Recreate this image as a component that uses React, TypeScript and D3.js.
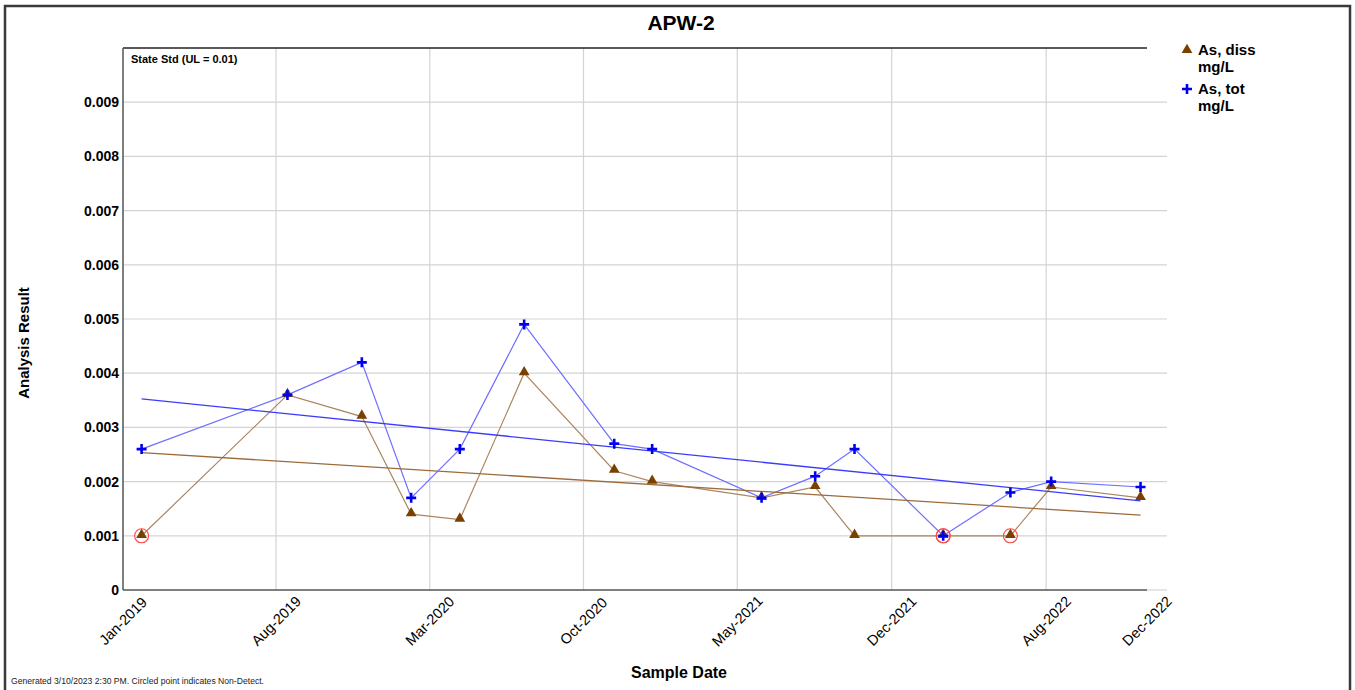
import React, { useEffect, useRef } from 'react';
import * as d3 from 'd3';

// sample dates and results
const sampleDates = [
  '2019-01-27', '2019-08-19', '2019-12-01', '2020-02-08', '2020-04-16',
  '2020-07-15', '2020-11-18', '2021-01-10', '2021-06-12', '2021-08-26',
  '2021-10-20', '2022-02-21', '2022-05-26', '2022-07-22', '2022-11-24',
];
const asDiss = [0.001, 0.0036, 0.0032, 0.0014, 0.0013, 0.004, 0.0022, 0.002, 0.0017, 0.0019, 0.001, 0.001, 0.001, 0.0019, 0.0017];
const asDissND = [true, false, false, false, false, false, false, false, false, false, false, true, true, false, false];
const asTot = [0.0026, 0.0036, 0.0042, 0.0017, 0.0026, 0.0049, 0.0027, 0.0026, 0.0017, 0.0021, 0.0026, 0.001, 0.0018, 0.002, 0.0019];
const asTotND = [false, false, false, false, false, false, false, false, false, false, false, true, false, false, false];

const tickDates = ['2019-01-01', '2019-08-03', '2020-03-05', '2020-10-06', '2021-05-09', '2021-12-11', '2022-07-15', '2022-12-03'];
const tickLabels = ['Jan-2019', 'Aug-2019', 'Mar-2020', 'Oct-2020', 'May-2021', 'Dec-2021', 'Aug-2022', 'Dec-2022'];
const yTicks = [0, 0.001, 0.002, 0.003, 0.004, 0.005, 0.006, 0.007, 0.008, 0.009];

const FONT = '"Liberation Sans", Arial, sans-serif';

const App: React.FC = () => {
  const svgRef = useRef<SVGSVGElement>(null);

  useEffect(() => {
    if (!svgRef.current) return;
    const svg = d3.select(svgRef.current);
    svg.selectAll('*').remove();

    const W = 1355, H = 690;
    const left = 123, right = 1167, top = 48, bottom = 590, axisEnd = 1147;

    svg.attr('width', W).attr('height', H).style('font-family', FONT);
    svg.append('rect').attr('width', W).attr('height', H).attr('fill', '#fff');

    // outer frame
    svg.append('rect')
      .attr('x', 5).attr('y', 6).attr('width', 1345).attr('height', 690)
      .attr('fill', 'none').attr('stroke', '#3a3a3a').attr('stroke-width', 2.5);

    const parse = d3.timeParse('%Y-%m-%d');
    const dates = sampleDates.map(d => parse(d) as Date);

    const x = d3.scaleTime()
      .domain([parse('2019-01-01') as Date, parse('2022-12-31') as Date])
      .range([left, right]);
    const y = d3.scaleLinear().domain([0, 0.01]).range([bottom, top]);

    // grid
    svg.append('g').selectAll('line').data(yTicks.slice(1)).enter().append('line')
      .attr('x1', left).attr('x2', right)
      .attr('y1', d => y(d)).attr('y2', d => y(d))
      .attr('stroke', '#d4d4d4').attr('stroke-width', 1.2);
    svg.append('g').selectAll('line').data(tickDates.slice(1, -1)).enter().append('line')
      .attr('x1', d => x(parse(d) as Date)).attr('x2', d => x(parse(d) as Date))
      .attr('y1', top).attr('y2', bottom)
      .attr('stroke', '#d4d4d4').attr('stroke-width', 1.2);
    svg.append('line').attr('x1', axisEnd).attr('x2', right).attr('y1', bottom).attr('y2', bottom)
      .attr('stroke', '#d4d4d4').attr('stroke-width', 1.2);

    // axes frame
    svg.append('line').attr('x1', left).attr('x2', axisEnd).attr('y1', top).attr('y2', top)
      .attr('stroke', '#222').attr('stroke-width', 1.5);
    svg.append('line').attr('x1', left).attr('x2', axisEnd).attr('y1', bottom).attr('y2', bottom)
      .attr('stroke', '#555').attr('stroke-width', 1.5);
    svg.append('line').attr('x1', left).attr('x2', left).attr('y1', top).attr('y2', bottom)
      .attr('stroke', '#555').attr('stroke-width', 1.5);

    // y tick labels
    svg.append('g').selectAll('text').data(yTicks).enter().append('text')
      .attr('x', left - 4).attr('y', d => y(d)).attr('dy', '0.35em')
      .attr('text-anchor', 'end').attr('font-size', 14).attr('font-weight', 700)
      .attr('fill', '#000')
      .text(d => (d === 0 ? '0' : d3.format('.3f')(d)));

    // x tick labels
    svg.append('g').selectAll('text').data(tickDates).enter().append('text')
      .attr('transform', (d) => `translate(${x(parse(d) as Date)},${bottom + 31}) rotate(-45)`)
      .attr('text-anchor', 'middle').attr('dy', '0.35em')
      .attr('font-size', 14.5).attr('fill', '#000')
      .text((d, i) => tickLabels[i]);

    // titles
    svg.append('text').attr('x', 681).attr('y', 30).attr('text-anchor', 'middle')
      .attr('font-size', 21).attr('font-weight', 700).text('APW-2');
    svg.append('text').attr('x', 679).attr('y', 678).attr('text-anchor', 'middle')
      .attr('font-size', 16).attr('font-weight', 700).text('Sample Date');
    svg.append('text').attr('transform', 'translate(29,343) rotate(-90)').attr('text-anchor', 'middle')
      .attr('font-size', 15).attr('font-weight', 700).text('Analysis Result');
    svg.append('text').attr('x', 131).attr('y', 63)
      .attr('font-size', 11).attr('font-weight', 700).text('State Std (UL = 0.01)');
    svg.append('text').attr('x', 11).attr('y', 684)
      .attr('font-size', 8.5).attr('fill', '#222')
      .attr('textLength', 253).attr('lengthAdjust', 'spacingAndGlyphs')
      .text('Generated 3/10/2023 2:30 PM. Circled point indicates Non-Detect.');

    // series lines
    const line = d3.line<number>().x((d, i) => x(dates[i])).y(d => y(d));
    svg.append('path').attr('d', line(asDiss)).attr('fill', 'none')
      .attr('stroke', '#ab8660').attr('stroke-width', 1.2);
    svg.append('path').attr('d', line(asTot)).attr('fill', 'none')
      .attr('stroke', '#6f6fff').attr('stroke-width', 1.2);

    // least-squares trend lines, first to last sample
    const trend = (vals: number[]) => {
      const xs = dates.map(d => d.getTime());
      const mx = d3.mean(xs) as number, my = d3.mean(vals) as number;
      let sxy = 0, sxx = 0;
      xs.forEach((xv, i) => { sxy += (xv - mx) * (vals[i] - my); sxx += (xv - mx) ** 2; });
      const b = sxy / sxx;
      const ends = [xs[0], xs[xs.length - 1]];
      return ends.map(t => [x(new Date(t)), y(my + b * (t - mx))] as [number, number]);
    };
    svg.append('path').attr('d', d3.line()(trend(asDiss))).attr('fill', 'none')
      .attr('stroke', '#9c6b3c').attr('stroke-width', 1.3);
    svg.append('path').attr('d', d3.line()(trend(asTot))).attr('fill', 'none')
      .attr('stroke', '#3b3bff').attr('stroke-width', 1.3);

    // markers
    const tri = d3.symbol().type(d3.symbolTriangle).size(50)();
    const plus = 'M-5,0H5M0,-5V5';
    svg.append('g').selectAll('path').data(asDiss).enter().append('path')
      .attr('d', tri)
      .attr('transform', (d, i) => `translate(${x(dates[i])},${y(d) - 1})`)
      .attr('fill', '#7a4000');
    svg.append('g').selectAll('path').data(asTot).enter().append('path')
      .attr('d', plus)
      .attr('transform', (d, i) => `translate(${x(dates[i])},${y(d)})`)
      .attr('stroke', '#0000ee').attr('stroke-width', 2.6).attr('fill', 'none');

    // non-detect circles
    const nd = [
      ...asDiss.map((v, i) => ({ v, i, nd: asDissND[i] })),
      ...asTot.map((v, i) => ({ v, i, nd: asTotND[i] })),
    ].filter(p => p.nd);
    svg.append('g').selectAll('circle').data(nd).enter().append('circle')
      .attr('cx', p => x(dates[p.i])).attr('cy', p => y(p.v)).attr('r', 7)
      .attr('fill', 'none').attr('stroke', '#ff4a4a').attr('stroke-width', 1.1);

    // legend
    const lg = svg.append('g');
    lg.append('path').attr('d', tri).attr('transform', 'translate(1187,50)').attr('fill', '#7a4000');
    lg.append('path').attr('d', plus).attr('transform', 'translate(1187,89)')
      .attr('stroke', '#0000ee').attr('stroke-width', 2.6).attr('fill', 'none');
    const legendText = [['As, diss', 55], ['mg/L', 72], ['As, tot', 94], ['mg/L', 111]] as [string, number][];
    lg.selectAll('text').data(legendText).enter().append('text')
      .attr('x', 1198).attr('y', d => d[1])
      .attr('font-size', 15).attr('font-weight', 700).text(d => d[0]);
  }, []);

  return (
    <div style={{ position: 'fixed', left: 0, top: 0, background: '#fff' }}>
      <svg ref={svgRef}></svg>
    </div>
  );
};

export default App;
